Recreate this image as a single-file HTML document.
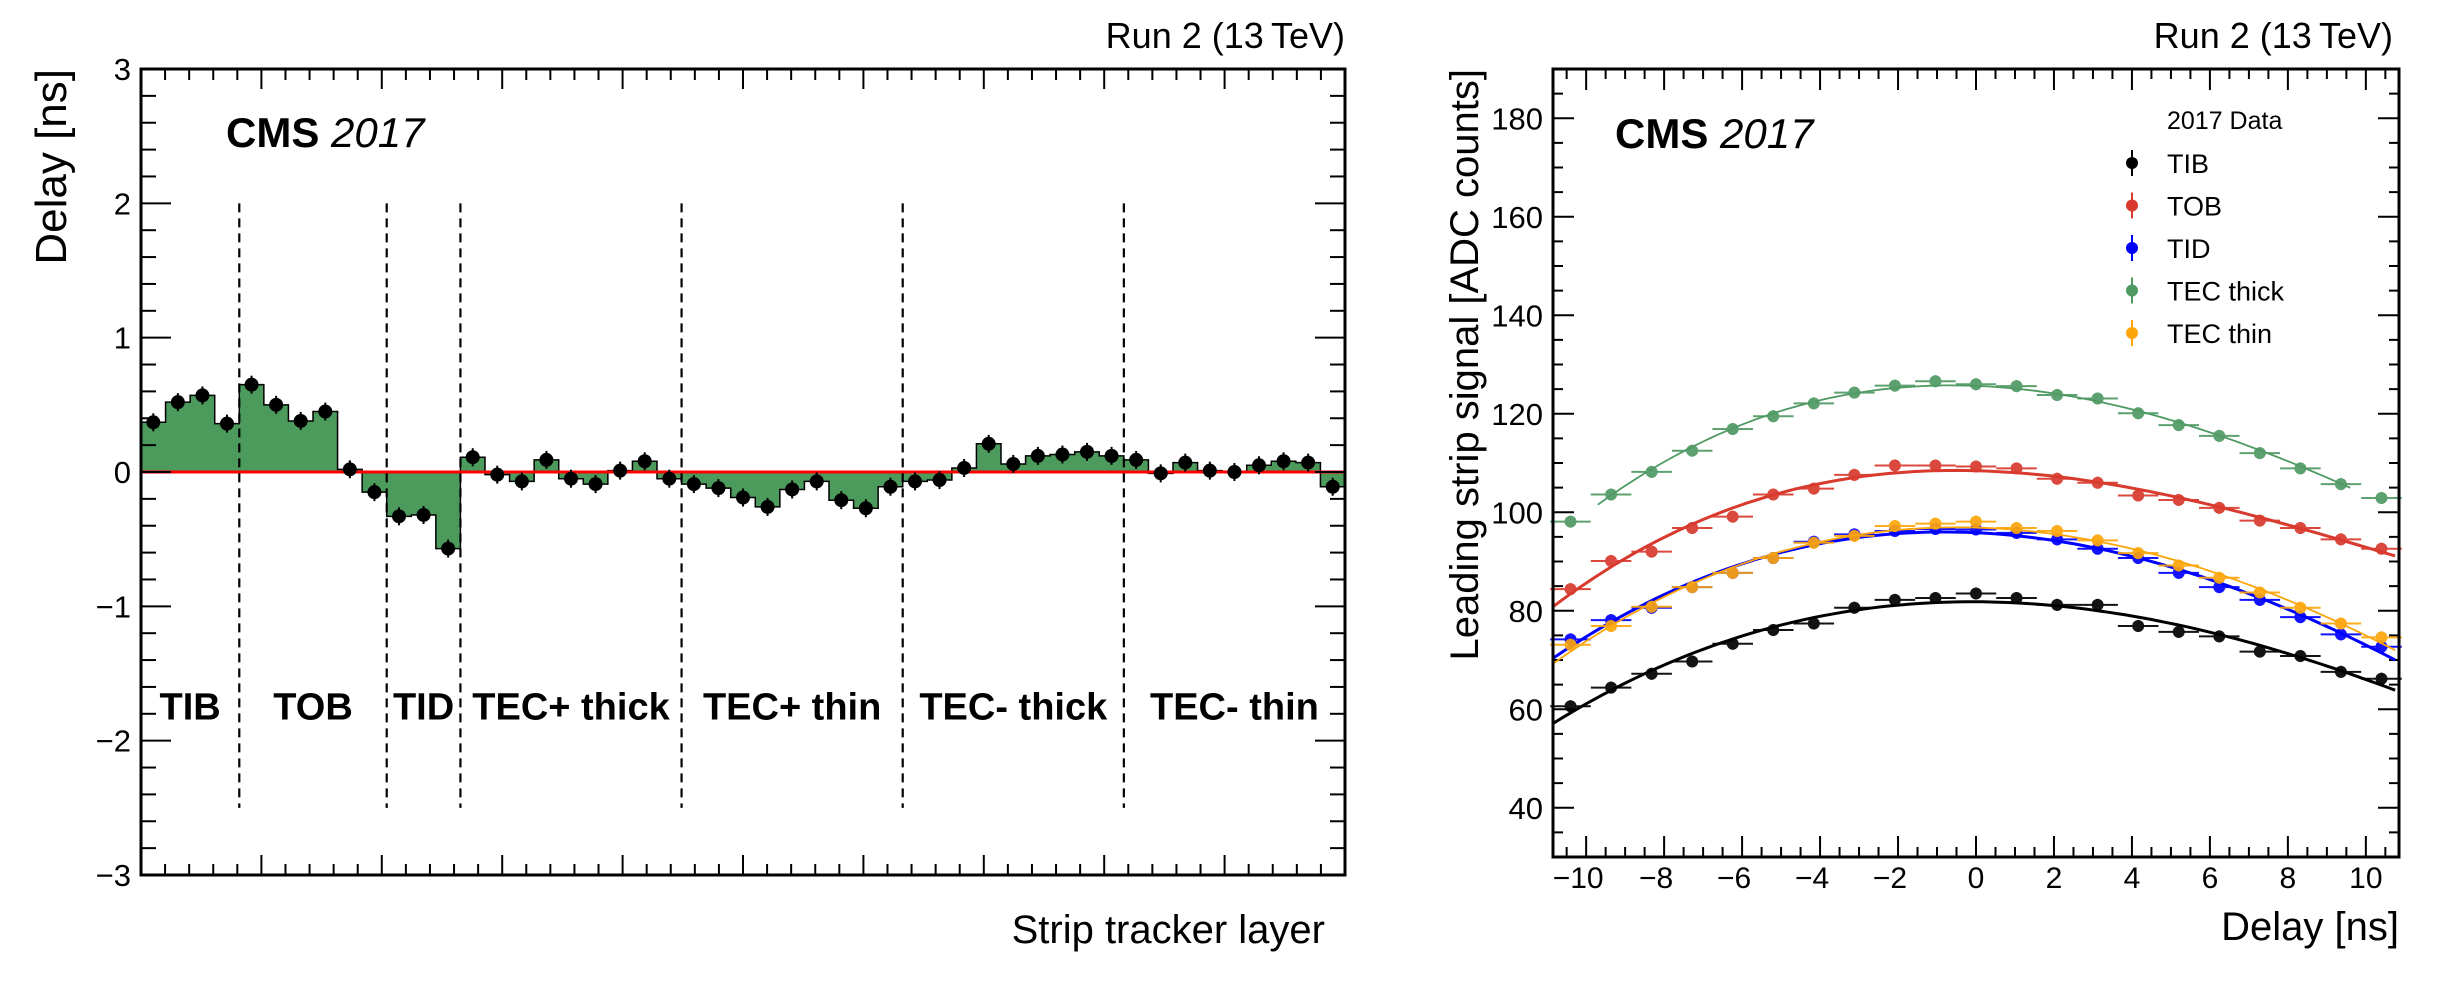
<!DOCTYPE html>
<html><head><meta charset="utf-8"><style>
html,body{margin:0;padding:0;background:#fff;}
svg{display:block;font-family:"Liberation Sans",Arial,sans-serif;}
</style></head><body>
<svg id="fig" width="2451" height="983" viewBox="0 0 2451 983" xmlns="http://www.w3.org/2000/svg">
<g id="left"></g>
<g id="right"></g>
</svg>
<script>
// ---------- Left chart data ----------
const layerValues = [0.37,0.52,0.57,0.36, 0.65,0.50,0.38,0.45,0.02,-0.15, -0.33,-0.32,-0.57,
 0.11,-0.02,-0.07,0.09,-0.05,-0.09,0.01,0.08,-0.05,
 -0.09,-0.12,-0.19,-0.26,-0.13,-0.07,-0.21,-0.27,-0.11,
 -0.07,-0.06,0.03,0.21,0.06,0.12,0.13,0.15,0.12,
 0.09,-0.01,0.07,0.01,0.0,0.05,0.08,0.07,-0.11];
const regionNames = ["TIB","TOB","TID","TEC+ thick","TEC+ thin","TEC- thick","TEC- thin"];
const regionBins = [4,6,3,9,9,9,9];
const leftYTicks = [-3,-2,-1,0,1,2,3];
const leftYTickLabels = ["\u22123","\u22122","\u22121","0","1","2","3"];

// ---------- Right chart data ----------
const delays = [-10.4,-9.36,-8.32,-7.28,-6.24,-5.2,-4.16,-3.12,-2.08,-1.04,0,1.04,2.08,3.12,4.16,5.2,6.24,7.28,8.32,9.36,10.4];
const tibSignal = [60.6,64.4,67.2,69.7,73.3,76.1,77.4,80.6,82.2,82.6,83.5,82.6,81.2,81.2,76.9,75.7,74.8,71.7,70.8,67.6,66.2];
const tobSignal = [84.4,90.1,92.0,96.8,99.1,103.6,104.8,107.6,109.5,109.5,109.3,108.9,106.8,106.0,103.4,102.5,100.9,98.3,96.8,94.5,92.6];
const tidSignal = [74.2,78.1,80.6,84.8,87.7,90.7,94.0,95.5,96.2,96.6,96.5,95.8,94.5,92.6,90.7,87.7,84.8,82.2,78.7,75.2,72.7];
const tecThickSignal = [98.1,103.6,108.2,112.5,116.9,119.5,122.1,124.3,125.7,126.6,126.0,125.6,123.8,123.1,120.1,117.7,115.5,112.0,108.9,105.7,102.9];
const tecThinSignal = [73.1,76.9,80.8,84.8,87.7,90.7,93.8,95.2,97.2,97.7,98.1,96.8,96.2,94.3,91.7,89.2,86.7,83.7,80.6,77.4,74.6];
const seriesNames = ["TIB","TOB","TID","TEC thick","TEC thin"];
const rightXTicks = [-10,-8,-6,-4,-2,0,2,4,6,8,10];
const rightYTicks = [40,60,80,100,120,140,160,180];

const NS="http://www.w3.org/2000/svg";
function mk(parent,tag,attrs,text){const e=document.createElementNS(NS,tag);for(const k in attrs)e.setAttribute(k,attrs[k]);if(text!==undefined)e.textContent=text;parent.appendChild(e);return e;}

// ================= LEFT =================
const L=document.getElementById('left');
const lx0=141,lx1=1345,ly0=69,ly1=875;
const nb=layerValues.length;
const bw=(lx1-lx0)/nb;
const lxs=i=>lx0+i*bw;
const lys=v=>ly1-(v+3)/6*(ly1-ly0);
let d="M"+lx0+","+lys(0);
layerValues.forEach((v,i)=>{d+=" L"+lxs(i)+","+lys(v)+" L"+lxs(i+1)+","+lys(v);});
d+=" L"+lx1+","+lys(0)+" Z";
let e=mk(L,'path',{d:d,fill:'#4c9a5c',stroke:'none'});


let od="M"+lx0+","+lys(0);
layerValues.forEach((v,i)=>{od+=" L"+lxs(i)+","+lys(v)+" L"+lxs(i+1)+","+lys(v);});
od+=" L"+lx1+","+lys(0);
e=mk(L,'path',{d:od,fill:'none',stroke:'#000','stroke-width':1.5});


e=mk(L,'line',{x1:lx0,x2:lx1,y1:lys(0),y2:lys(0),stroke:'#ff0000','stroke-width':3});


layerValues.forEach((v,i)=>{
  const cx=lxs(i+0.5),cy=lys(v);
  const g=mk(L,'g',{});
  
  
  mk(g,'line',{x1:cx,x2:cx,y1:cy-9,y2:cy+9,stroke:'#000','stroke-width':2});
  mk(g,'circle',{cx:cx,cy:cy,r:7,fill:'#000'});
});
let acc=0;
regionBins.forEach((n,k)=>{
  const xc=lxs(acc+n/2);
  const t=mk(L,'text',{x:xc,y:lys(-1.74)+14,'font-size':38,'font-weight':'bold','text-anchor':'middle'},regionNames[k]);
  
  
  acc+=n;
  if(k<regionBins.length-1){
    const l=mk(L,'line',{x1:lxs(acc),x2:lxs(acc),y1:lys(2),y2:lys(-2.5),stroke:'#000','stroke-width':2.2,'stroke-dasharray':'9,6'});
    
    
  }
});
for(let v=-3;v<=3.001;v+=0.2){
  const y=lys(v);const maj=Math.abs(v-Math.round(v))<0.01;const len=maj?30:15;
  mk(L,'line',{x1:lx0,x2:lx0+len,y1:y,y2:y,stroke:'#000','stroke-width':2});
  mk(L,'line',{x1:lx1,x2:lx1-len,y1:y,y2:y,stroke:'#000','stroke-width':2});
}
for(let k=0;k<=50;k++){
  const x=lx0+k*(lx1-lx0)/50;const len=(k%5===0)?20:11;
  mk(L,'line',{x1:x,x2:x,y1:ly0,y2:ly0+len,stroke:'#000','stroke-width':2});
  mk(L,'line',{x1:x,x2:x,y1:ly1,y2:ly1-len,stroke:'#000','stroke-width':2});
}
leftYTicks.forEach((v,i)=>{
  const t=mk(L,'text',{x:131,y:lys(v)+11,'font-size':31,'text-anchor':'end'},leftYTickLabels[i]);
  
  
});
e=mk(L,'rect',{x:lx0,y:ly0,width:lx1-lx0,height:ly1-ly0,fill:'none',stroke:'#000','stroke-width':3});


e=mk(L,'text',{x:0,y:0,'font-size':44,'text-anchor':'end',transform:'translate(66,69) rotate(-90)'},'Delay [ns]');


e=mk(L,'text',{x:1325,y:943,'font-size':40,'text-anchor':'end'},'Strip tracker layer');


e=mk(L,'text',{x:1345,y:48,'font-size':36,'text-anchor':'end'},'Run 2 (13\u2009TeV)');


e=mk(L,'text',{x:226,y:147,'font-size':42},'');


mk(e,'tspan',{'font-weight':'bold'},'CMS ');
mk(e,'tspan',{'font-style':'italic'},'2017');

// ================= RIGHT =================
const R=document.getElementById('right');
const rx0=1553,rx1=2399,ry0=69,ry1=857;
const xmin=-10.85,xmax=10.85,ymin=30,ymax=190;
const rxs=v=>rx0+(v-xmin)/(xmax-xmin)*(rx1-rx0);
const rys=v=>ry1-(v-ymin)/(ymax-ymin)*(ry1-ry0);
for(let v=-10.5;v<=10.6;v+=0.5){
  const x=rxs(v);const maj=Math.abs(v/2-Math.round(v/2))<0.01;const len=maj?21:10;
  mk(R,'line',{x1:x,x2:x,y1:ry0,y2:ry0+len,stroke:'#000','stroke-width':2});
  mk(R,'line',{x1:x,x2:x,y1:ry1,y2:ry1-len,stroke:'#000','stroke-width':2});
}
for(let v=35;v<=190;v+=5){
  const y=rys(v);const len=(v%20===0)?21:10;
  mk(R,'line',{x1:rx0,x2:rx0+len,y1:y,y2:y,stroke:'#000','stroke-width':2});
  mk(R,'line',{x1:rx1,x2:rx1-len,y1:y,y2:y,stroke:'#000','stroke-width':2});
}
rightXTicks.forEach(v=>{
  const t=mk(R,'text',{x:rxs(v)-(v<0?8:0),y:888,'font-size':30,'text-anchor':'middle'},v<0?'\u2212'+(-v):String(v));
  
  
});
rightYTicks.forEach(v=>{
  const t=mk(R,'text',{x:1543,y:rys(v)+11,'font-size':31,'text-anchor':'end'},String(v));
  
  
});
function cubicFit(xs,ys){
  const n=4;const A=[...Array(n)].map(()=>Array(n+1).fill(0));
  xs.forEach((x,i)=>{const p=[1,x,x*x,x*x*x];for(let r=0;r<n;r++){for(let c=0;c<n;c++)A[r][c]+=p[r]*p[c];A[r][n]+=p[r]*ys[i];}});
  for(let c=0;c<n;c++){let m=c;for(let r=c+1;r<n;r++)if(Math.abs(A[r][c])>Math.abs(A[m][c]))m=r;[A[c],A[m]]=[A[m],A[c]];
    for(let r=0;r<n;r++){if(r===c)continue;const f=A[r][c]/A[c][c];for(let k=c;k<=n;k++)A[r][k]-=f*A[c][k];}}
  const co=A.map((r,i)=>r[n]/r[i]);return x=>co[0]+co[1]*x+co[2]*x*x+co[3]*x*x*x;
}
const seriesData=[tibSignal,tobSignal,tidSignal,tecThickSignal,tecThinSignal];
const colors=['#000000','#d83a2e','#0000ff','#4f9a63','#fca50a'];
const lineW=[3,3,3,1.8,1.8];
const fitRange=[[-10.85,10.75],[-10.85,10.75],[-10.85,10.75],[-9.7,9.6],[-10.85,10.75]];
const drawOrder=[3,1,2,4,0];
drawOrder.forEach(s=>{
  const ys=seriesData[s];const f=cubicFit(delays,ys);
  const g=mk(R,'g',{});
  
  
  let p="";const [a,b]=fitRange[s];
  for(let k=0;k<=100;k++){const x=a+(b-a)*k/100;p+=(k?" L":"M")+rxs(x).toFixed(1)+","+rys(f(x)).toFixed(1);}
  const fl=mk(g,'path',{d:p,fill:'none',stroke:colors[s],'stroke-width':lineW[s]});
  
  
  delays.forEach((x,i)=>{
    const cx=rxs(x),cy=rys(ys[i]);
    const pg=mk(g,'g',{opacity:0.92});
    
    
    mk(pg,'line',{x1:rxs(x-0.52),x2:rxs(x+0.52),y1:cy,y2:cy,stroke:colors[s],'stroke-width':2});
    mk(pg,'line',{x1:cx,x2:cx,y1:cy-6,y2:cy+6,stroke:colors[s],'stroke-width':2});
    mk(pg,'circle',{cx:cx,cy:cy,r:6,fill:colors[s]});
  });
});
e=mk(R,'text',{x:2167,y:129,'font-size':25},'2017 Data');


seriesNames.forEach((n,i)=>{
  const y=163+i*42.5;
  const g=mk(R,'g',{});
  
  
  mk(g,'line',{x1:2132,x2:2132,y1:y-13,y2:y+13,stroke:colors[i],'stroke-width':2});
  mk(g,'circle',{cx:2132,cy:y,r:6,fill:colors[i]});
  mk(g,'text',{x:2167,y:y+10,'font-size':27},n);
});
e=mk(R,'rect',{x:rx0,y:ry0,width:rx1-rx0,height:ry1-ry0,fill:'none',stroke:'#000','stroke-width':3});


e=mk(R,'text',{x:0,y:0,'font-size':40,'text-anchor':'end',transform:'translate(1478,69) rotate(-90)'},'Leading strip signal [ADC counts]');


e=mk(R,'text',{x:2399,y:940,'font-size':40,'text-anchor':'end'},'Delay [ns]');


e=mk(R,'text',{x:2393,y:48,'font-size':36,'text-anchor':'end'},'Run 2 (13\u2009TeV)');


e=mk(R,'text',{x:1615,y:148,'font-size':42},'');


mk(e,'tspan',{'font-weight':'bold'},'CMS ');
mk(e,'tspan',{'font-style':'italic'},'2017');
</script>
</body></html>
